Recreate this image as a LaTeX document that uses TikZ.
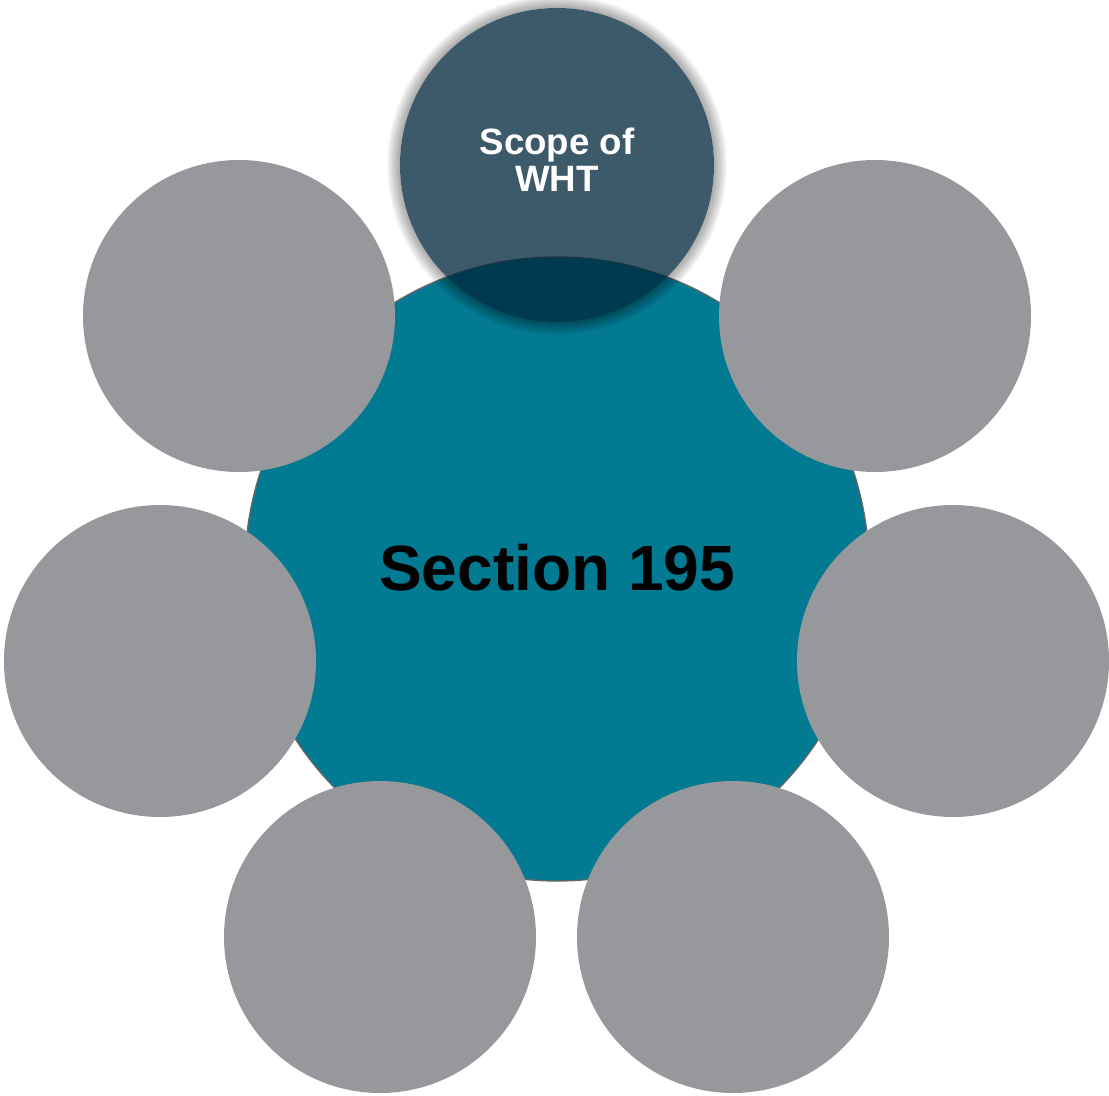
\documentclass[tikz,border=0pt]{standalone}
\usepackage{fontspec}
\setmainfont{Liberation Sans}
\definecolor{teal1}{RGB}{2,122,146}
\definecolor{grayc}{RGB}{151,152,156}
\definecolor{topc}{RGB}{0,38,60}
\begin{document}
\begin{tikzpicture}[x=0.75pt,y=-0.75pt,
  petal/.style={circle,fill=grayc,minimum size=312*0.75pt,inner sep=0pt},
  hub/.style={circle,fill=teal1,draw=gray!80!black,line width=1pt,minimum size=624*0.75pt,inner sep=0pt,font=\bfseries\fontsize{48pt}{58pt}\selectfont,text=black},
  topc/.style={circle,fill=topc,fill opacity=0.76,text opacity=1,minimum size=314*0.75pt,inner sep=0pt,font=\bfseries\fontsize{27.5pt}{28pt}\selectfont,text=white,align=center}]
\useasboundingbox (0,0) rectangle (1109,1095);
\node[hub] (hub) at (557,569) {\raisebox{2.25pt}{Section 195}};
\node[petal] (tl) at (239,316) {};
\node[petal] (tr) at (875,316) {};
\node[petal] (l) at (160,661) {};
\node[petal] (r) at (953,661) {};
\node[petal] (bl) at (380,937) {};
\node[petal] (br) at (733,937) {};
% glow ring around the top circle
\foreach \k in {1,...,12}{
  \fill[black,opacity=0.035,even odd rule] (557,165) circle ({157+14-\k*1.2}) (557,165) circle (157);
}
\node[topc] (top) at (557,165) {\raisebox{3pt}{\begin{tabular}{@{}c@{}}Scope of\\WHT\end{tabular}}};
\end{tikzpicture}
\end{document}
